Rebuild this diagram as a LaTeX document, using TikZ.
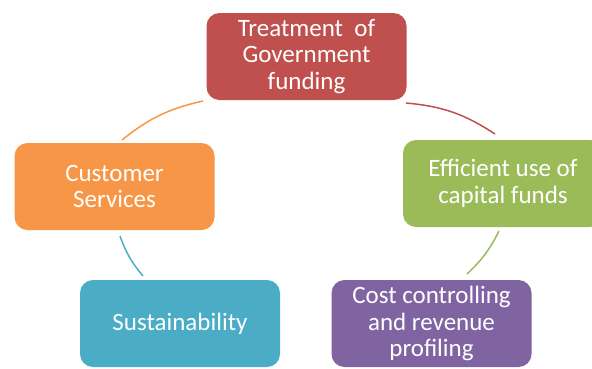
\documentclass[tikz,border=0pt]{standalone}
\usepackage{fontspec}
\setmainfont{Carlito}
\definecolor{redbox}{HTML}{C0504D}
\definecolor{greenbox}{HTML}{9BBB59}
\definecolor{purplebox}{HTML}{8064A2}
\definecolor{bluebox}{HTML}{4BACC6}
\definecolor{orangebox}{HTML}{F79646}
\tikzset{
  stage/.style={rounded corners=13pt,minimum width=200pt,minimum height=87pt,
    text width=196pt,align=flush center,text=white,inner sep=0pt,
    font=\fontsize{25}{26.5}\selectfont},
  link/.style={line width=1.5pt}
}
\begin{document}
\begin{tikzpicture} [x=1pt,y=-1pt]
    \useasboundingbox (0,0) rectangle (592,368);
    \node[stage,fill=redbox] (fund) at (306.5,56.5) {Treatment\ \ of\\Government\\funding};
    \node[stage,fill=greenbox] (capital) at (503,183.5) {Efficient use of\\capital funds};
    \node[stage,fill=purplebox] (cost) at (431.5,323.5) {Cost controlling\\and revenue\\profiling};
    \node[stage,fill=bluebox] (sustain) at (180,323.5) {Sustainability};
    \node[stage,fill=orangebox] (customer) at (114.5,186.5) {Customer\\Services};
    % arc ends
    \coordinate (c1) at (122,140);
    \coordinate (f1) at (203,101);
    \coordinate (f2) at (406,103);
    \coordinate (k1) at (495,134);
    \coordinate (k2) at (499,231);
    \coordinate (p1) at (467,274);
    \coordinate (s1) at (143,276);
    \coordinate (c2) at (120,236);
    \draw[link,orangebox] (c1) to[bend left=13] (f1);
    \draw[link,redbox] (f2) to[bend left=14] (k1);
    \draw[link,greenbox] (k2) to[bend left=10] (p1);
    \draw[link,bluebox] (s1) to[bend left=10] (c2);
\end{tikzpicture}
\end{document}
